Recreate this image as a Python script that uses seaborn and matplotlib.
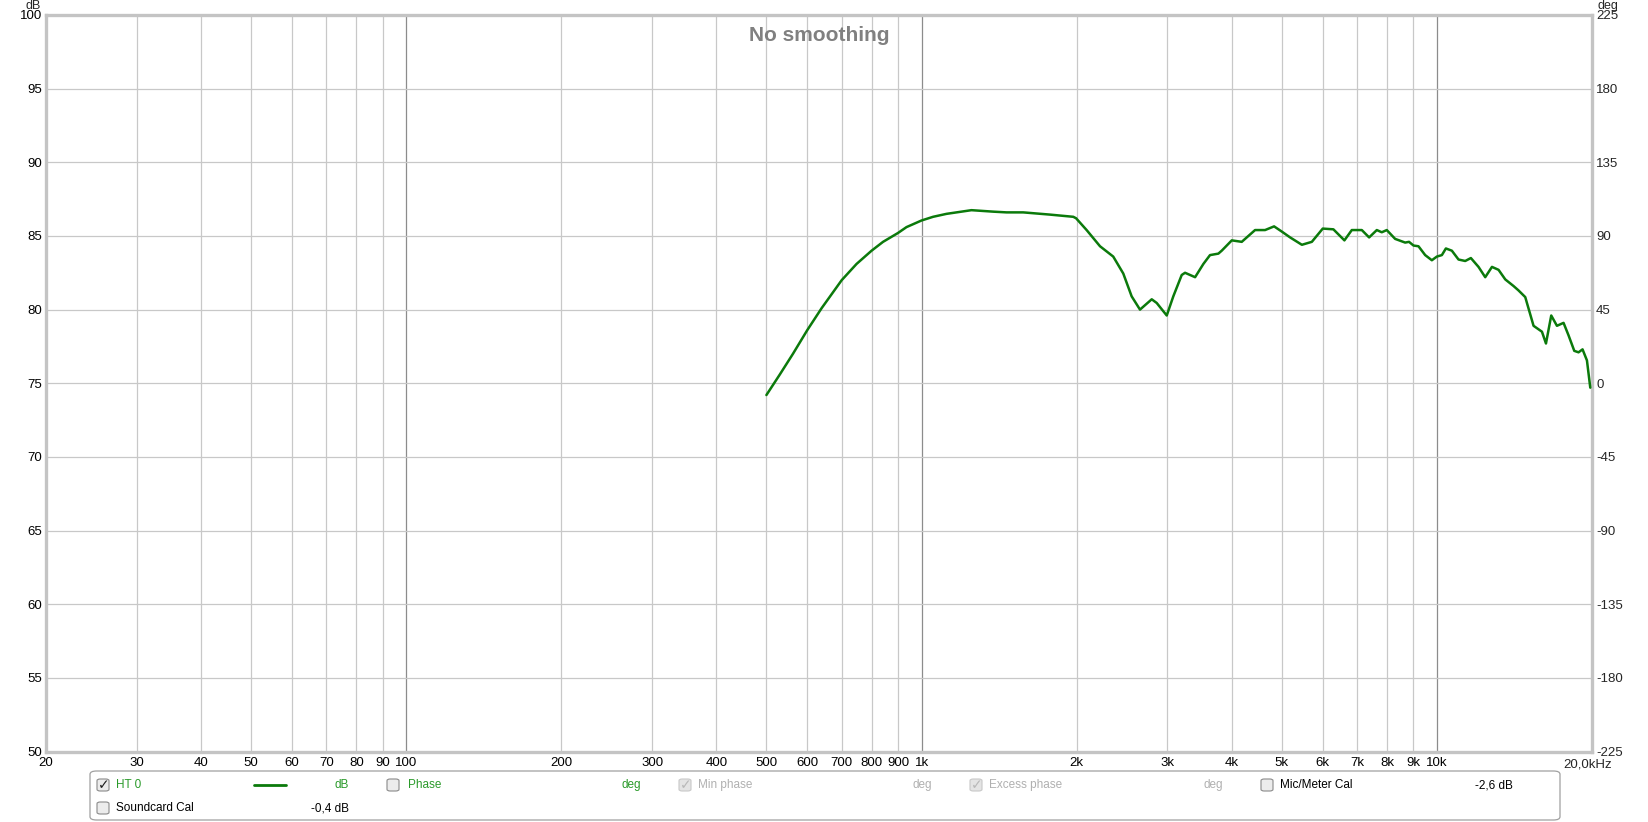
import matplotlib
matplotlib.use("Agg")
import matplotlib.pyplot as plt
from matplotlib.patches import FancyBboxPatch
import seaborn as sns
import pandas as pd

freq_hz = [500, 531, 563, 600, 640, 700, 748, 800, 842, 900, 935, 1000, 1053, 1118, 1250,
           1377, 1462, 1575, 1774, 1970, 1995,
           2091, 2220, 2355, 2463, 2557, 2654, 2797, 2860, 2991, 3080, 3198, 3246,
           3395, 3523, 3629, 3767, 3824, 4000, 4182, 4438, 4641, 4832, 5000, 5191,
           5471, 5720, 6006, 6298, 6616, 6838, 7151, 7388, 7646, 7818, 7995, 8299,
           8679, 8830, 9009, 9211, 9491, 9779, 10000, 10226, 10411, 10693, 11015,
           11350, 11641, 12045, 12412, 12791, 13173, 13574, 14086, 14404, 14842,
           15403, 15992, 16282, 16670, 17100, 17613, 18011, 18477, 18833, 19173,
           19553, 19847]
spl_db = [74.2, 75.6, 77.0, 78.6, 80.1, 82.0, 83.1, 84.0, 84.6, 85.2, 85.6, 86.05, 86.3, 86.5,
          86.75, 86.65, 86.6, 86.6, 86.45, 86.3, 86.2,
          85.4, 84.3, 83.6, 82.45, 80.9, 80.0, 80.7, 80.45, 79.6, 80.9, 82.35, 82.5,
          82.2, 83.1, 83.7, 83.8, 84.0, 84.7, 84.6, 85.4, 85.4, 85.65, 85.3, 84.9,
          84.4, 84.6, 85.5, 85.45, 84.7, 85.4, 85.4, 84.9, 85.4, 85.25, 85.4, 84.8,
          84.55, 84.6, 84.35, 84.3, 83.7, 83.35, 83.6, 83.7, 84.15, 84.0, 83.4,
          83.3, 83.5, 82.9, 82.2, 82.9, 82.7, 82.05, 81.6, 81.3, 80.85,
          78.9, 78.5, 77.7, 79.6, 78.9, 79.1, 78.25, 77.2, 77.1, 77.3,
          76.55, 74.7]

x_ticks = [20, 30, 40, 50, 60, 70, 80, 90, 100, 200, 300, 400, 500, 600, 700, 800, 900,
           1000, 2000, 3000, 4000, 5000, 6000, 7000, 8000, 9000, 10000, 20000]
x_labels = ["20", "30", "40", "50", "60", "70", "80", "90", "100", "200", "300", "400",
            "500", "600", "700", "800", "900", "1k", "2k", "3k", "4k", "5k", "6k", "7k",
            "8k", "9k", "10k", ""]
db_ticks = list(range(50, 101, 5))
deg_ticks = list(range(-225, 226, 45))

W, H = 1649, 822
sns.set_style("white")
plt.rcParams["font.family"] = ["Liberation Sans", "DejaVu Sans"]
plt.rcParams["axes.unicode_minus"] = False

fig = plt.figure(figsize=(W / 100, H / 100), dpi=100)
ax = fig.add_axes([46 / W, 1 - 751.5 / H, (1592 - 46) / W, (751.5 - 15) / H])

df = pd.DataFrame({"freq": freq_hz, "db": spl_db})
sns.lineplot(data=df, x="freq", y="db", ax=ax, color="#0b7a0b", linewidth=1.8, zorder=5)

ax.set_xscale("log")
ax.set_xlim(20, 20000)
ax.set_ylim(50, 100)
ax.set_xticks(x_ticks)
ax.set_xticklabels(x_labels)
ax.minorticks_off()
ax.set_yticks(db_ticks)
ax.set_xlabel("")
ax.set_ylabel("")
ax.tick_params(axis="both", length=0, labelsize=9.5, colors="black")
ax.tick_params(axis="x", pad=4)
ax.tick_params(axis="y", pad=3)

# grid: light lines, decades darker
for f in x_ticks[1:-1]:
    c = "#8c8c8c" if f in (100, 1000, 10000) else "#c8c8c8"
    ax.axvline(f, color=c, linewidth=0.9, zorder=1)
for d in db_ticks[1:-1]:
    ax.axhline(d, color="#c8c8c8", linewidth=0.9, zorder=1)

for s in ax.spines.values():
    s.set_color("#c4c4c4")
    s.set_linewidth(2.4)

ax2 = ax.twinx()
ax2.set_ylim(-225, 225)
ax2.set_yticks(deg_ticks)
ax2.tick_params(axis="y", length=0, labelsize=9.5, pad=3)
for s in ax2.spines.values():
    s.set_visible(False)

ax.text(0.5, 0.985, "No smoothing", transform=ax.transAxes, ha="center", va="top",
        fontsize=15, fontweight="bold", color="#808080")

# units labels and last x label
fig.text(33 / W, 1, "dB", ha="center", va="top", fontsize=9)
fig.text(1608 / W, 1, "deg", ha="center", va="top", fontsize=9)
fig.text(1563 / W, 1 - 764 / H, "20,0kHz", ha="left", va="center", fontsize=9.5)

# legend panel
def fx(x):
    return x / W


def fy(y):
    return 1 - y / H


panel = FancyBboxPatch((fx(90), fy(820)), fx(1560) - fx(90), fy(771) - fy(820),
                       boxstyle="round,pad=0,rounding_size=0.004",
                       transform=fig.transFigure, facecolor="white",
                       edgecolor="#a0a0a0", linewidth=0.9)
fig.add_artist(panel)


def checkbox(x, y, checked=False, grey=False):
    box = FancyBboxPatch((fx(x), fy(y + 6)), 12 / W, 12 / H,
                         boxstyle="round,pad=0,rounding_size=0.002",
                         transform=fig.transFigure,
                         facecolor="#e4e4e4" if grey else "#ececec",
                         edgecolor="#c8c8c8" if grey else "#8a8a8a", linewidth=0.8)
    fig.add_artist(box)
    if checked:
        fig.text(fx(x + 6.5), fy(y), "\u2713", ha="center", va="center", fontsize=10,
                 fontweight="bold", color="#b8b8b8" if grey else "#202020",
                 family="DejaVu Sans")


green = "#2a9a2a"
grey = "#b0b0b0"
r1, r2 = 785, 808
checkbox(97, r1, checked=True)
fig.text(fx(116), fy(r1), "HT 0", color=green, va="center", fontsize=8.5)
fig.lines.append(plt.Line2D([fx(254), fx(286)], [fy(r1), fy(r1)], transform=fig.transFigure,
                            color="#0b7a0b", linewidth=2))
fig.text(fx(349), fy(r1), "dB", color=green, va="center", ha="right", fontsize=8.5)
checkbox(387, r1)
fig.text(fx(408), fy(r1), "Phase", color=green, va="center", fontsize=8.5)
fig.text(fx(641), fy(r1), "deg", color=green, va="center", ha="right", fontsize=8.5)
checkbox(679, r1, checked=True, grey=True)
fig.text(fx(698), fy(r1), "Min phase", color=grey, va="center", fontsize=8.5)
fig.text(fx(932), fy(r1), "deg", color=grey, va="center", ha="right", fontsize=8.5)
checkbox(970, r1, checked=True, grey=True)
fig.text(fx(989), fy(r1), "Excess phase", color=grey, va="center", fontsize=8.5)
fig.text(fx(1223), fy(r1), "deg", color=grey, va="center", ha="right", fontsize=8.5)
checkbox(1261, r1)
fig.text(fx(1280), fy(r1), "Mic/Meter Cal", color="black", va="center", fontsize=8.5)
fig.text(fx(1513), fy(r1), "-2,6 dB", color="black", va="center", ha="right", fontsize=8.5)
checkbox(97, r2)
fig.text(fx(116), fy(r2), "Soundcard Cal", color="black", va="center", fontsize=8.5)
fig.text(fx(349), fy(r2), "-0,4 dB", color="black", va="center", ha="right", fontsize=8.5)

fig.savefig("out.png", dpi=100)
